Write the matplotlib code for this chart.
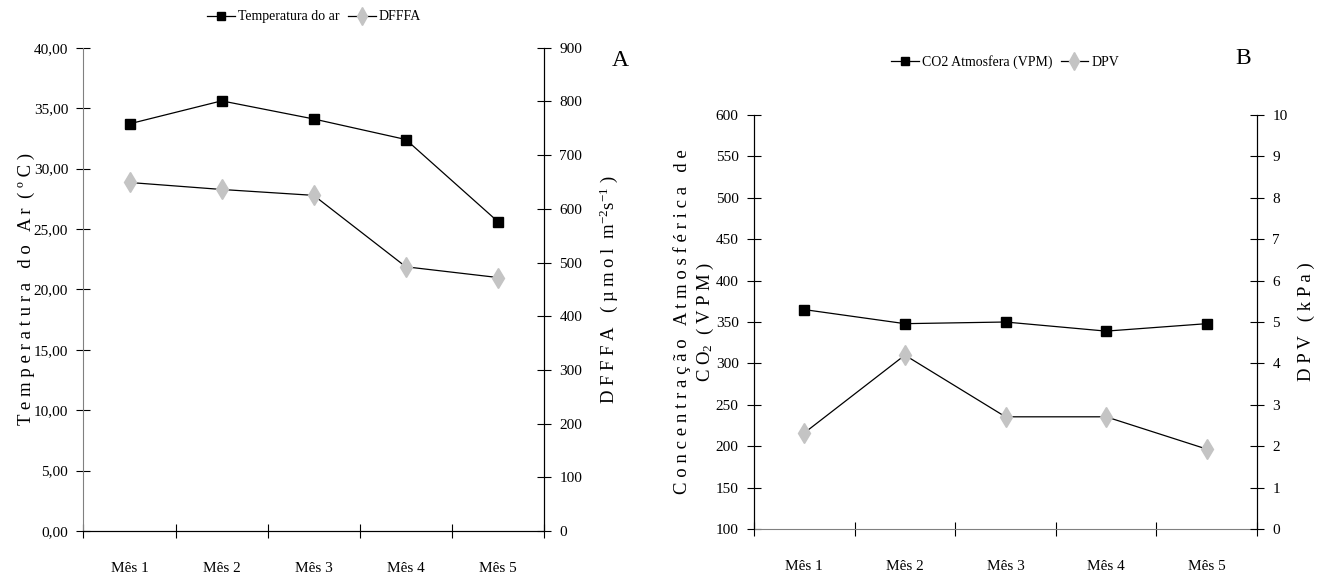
import matplotlib
matplotlib.use("Agg")
import matplotlib.pyplot as plt
from matplotlib.lines import Line2D
from matplotlib.ticker import FuncFormatter, FixedLocator

plt.rcParams["font.family"] = ["Liberation Serif", "DejaVu Serif"]
plt.rcParams["mathtext.fontset"] = "custom"
plt.rcParams["mathtext.rm"] = "Liberation Serif"
plt.rcParams["mathtext.it"] = "Liberation Serif:italic"

meses = ["Mês 1", "Mês 2", "Mês 3", "Mês 4", "Mês 5"]

# Painel A
temperatura = [33.7, 35.6, 34.1, 32.4, 25.6]
dfffa = [649, 636, 625, 492, 472]

# Painel B
co2 = [365, 348, 350, 339, 348]
dpv = [2.32, 4.2, 2.71, 2.71, 1.93]

CINZA = "#c4c4c4"
TICK_FS = 11
LABEL_FS = 13.5


def preparar_eixo_x(ax):
    n = len(meses)
    ax.set_xlim(0, n)
    ax.xaxis.set_major_locator(FixedLocator(range(n + 1)))
    ax.xaxis.set_minor_locator(FixedLocator([i + 0.5 for i in range(n)]))
    ax.xaxis.set_major_formatter(FuncFormatter(lambda v, p: ""))
    ax.set_xticklabels(meses, minor=True, fontsize=TICK_FS)
    ax.tick_params(axis="x", which="major", direction="inout", length=10, width=0.8)
    ax.tick_params(axis="x", which="minor", length=0, pad=22)


def desenhar(ax, ax2, y1, y2):
    x = [i + 0.5 for i in range(len(meses))]
    ax.plot(x, y1, color="black", lw=0.9, marker="s", ms=7,
            mfc="black", mec="black", zorder=3)
    ax2.plot(x, y2, color="black", lw=0.9, marker="d", ms=10,
             mfc=CINZA, mec=CINZA, zorder=3)
    ax.spines["top"].set_visible(False)
    ax2.spines["top"].set_visible(False)
    for a in (ax, ax2):
        a.tick_params(axis="y", direction="inout", length=10, width=0.8,
                      labelsize=TICK_FS, pad=6)


fig = plt.figure(figsize=(13.38, 5.76), dpi=100)

# ---------- A ----------
axA = fig.add_axes([0.0624, 0.0781, 0.3442, 0.8391])
axA2 = axA.twinx()
desenhar(axA, axA2, temperatura, dfffa)
preparar_eixo_x(axA)
axA.set_ylim(0, 40)
axA.set_yticks(range(0, 41, 5))
axA.yaxis.set_major_formatter(FuncFormatter(lambda v, p: f"{v:.2f}".replace(".", ",")))
axA2.set_ylim(0, 900)
axA2.set_yticks(range(0, 901, 100))
axA.spines["left"].set_color("#808080")
axA2.spines["left"].set_visible(False)
axA.set_ylabel("T e m p e r a t u r a   d o   A r  ( º C )", fontsize=LABEL_FS)
axA.yaxis.set_label_coords(-0.105, 0.5)
axA2.set_ylabel(r"D F F F A   ( µ m o l  m$^{-2}$s$^{-1}$ )", fontsize=LABEL_FS)
axA2.yaxis.set_label_coords(1.115, 0.5)

legA = [
    Line2D([], [], color="black", lw=0.9, marker="s", ms=6, mfc="black", mec="black"),
    Line2D([], [], color="black", lw=0.9, marker="d", ms=9, mfc=CINZA, mec=CINZA),
]
fig.legend(legA, ["Temperatura do ar", "DFFFA"], loc="center",
           bbox_to_anchor=(0.2347, 0.9705), ncol=2, frameon=False, fontsize=10,
           handlelength=2.0, handletextpad=0.2, columnspacing=0.6, numpoints=1)
fig.text(0.4634, 0.8958, "A", fontsize=17, ha="center", va="center")

# ---------- B ----------
axB = fig.add_axes([0.5635, 0.0816, 0.376, 0.7187])
axB2 = axB.twinx()
desenhar(axB, axB2, co2, dpv)
preparar_eixo_x(axB)
axB.set_ylim(100, 600)
axB.set_yticks(range(100, 601, 50))
axB2.set_ylim(0, 10)
axB2.set_yticks(range(0, 11))
axB.spines["bottom"].set_color("#808080")
axB2.spines["bottom"].set_visible(False)
axB.set_ylabel("C o n c e n t r a ç ã o   A t m o s f é r i c a   d e\n"
               r"C O$_{2}$  ( V P M )", fontsize=LABEL_FS, linespacing=1.25)
axB.yaxis.set_label_coords(-0.075, 0.5)
axB2.set_ylabel("D P V   ( k P a )", fontsize=LABEL_FS)
axB2.yaxis.set_label_coords(1.08, 0.5)

legB = [
    Line2D([], [], color="black", lw=0.9, marker="s", ms=6, mfc="black", mec="black"),
    Line2D([], [], color="black", lw=0.9, marker="d", ms=9, mfc=CINZA, mec=CINZA),
]
fig.legend(legB, ["CO2 Atmosfera (VPM)", "DPV"], loc="center",
           bbox_to_anchor=(0.7511, 0.8924), ncol=2, frameon=False, fontsize=10,
           handlelength=2.0, handletextpad=0.2, columnspacing=0.6, numpoints=1)
fig.text(0.929, 0.8976, "B", fontsize=17, ha="center", va="center")

fig.savefig("out.png", dpi=100)
